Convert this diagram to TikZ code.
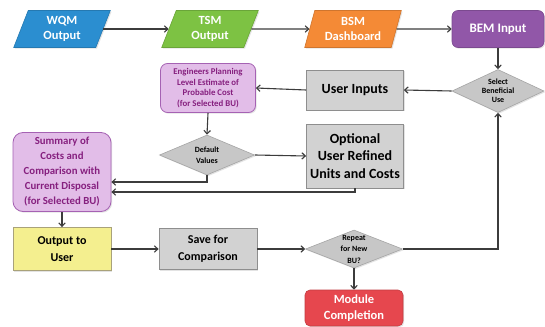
\documentclass[tikz,border=0pt]{standalone}
\usepackage{fontspec}
\setmainfont{Carlito}
\usetikzlibrary{shapes.geometric,arrows.meta,shadows}
\definecolor{wqmc}{HTML}{2B8ED0}
\definecolor{tsmc}{HTML}{7DC243}
\definecolor{bsmc}{HTML}{F48A36}
\definecolor{bemc}{HTML}{9157A8}
\definecolor{lpurp}{HTML}{E2BDE8}
\definecolor{lpurpd}{HTML}{A562B3}
\definecolor{magtext}{HTML}{86207F}
\definecolor{greyf}{HTML}{D2D2D2}
\definecolor{greyd}{HTML}{8E8E8E}
\definecolor{yelf}{HTML}{F4EF8F}
\definecolor{yeld}{HTML}{A9A27A}
\definecolor{redf}{HTML}{E6474E}
\definecolor{arrowc}{HTML}{3C3C3C}
\begin{document}
\begin{tikzpicture}[x=1pt,y=-1pt,
  shade/.style={drop shadow={shadow xshift=1.2pt,shadow yshift=-1.2pt,opacity=0.22}},
  para/.style={trapezium, trapezium left angle=72, trapezium right angle=108,
    trapezium stretches=true, minimum width=97pt, minimum height=37pt, inner sep=0pt,
    text=white, font=\bfseries\fontsize{12.5}{14.5}\selectfont, align=center,
    draw=#1!85!black, fill=#1, line width=0.6pt, shade},
  gbox/.style={rectangle, draw=greyd, fill=greyf, line width=0.8pt, inner sep=0pt,
    align=center, text=black, shade},
  pbox/.style={rectangle, rounded corners=#1, draw=lpurpd, fill=lpurp, line width=0.8pt,
    inner sep=0pt, align=center, text=magtext, shade},
  dia/.style={diamond, draw=greyd!80, fill=greyf!95!black, line width=0.6pt,
    inner sep=0pt, shade},
  dlab/.style={align=center, text=black, inner sep=0pt, font=\bfseries\fontsize{8}{#1}\selectfont},
  conn/.style={draw=arrowc, line width=1.1pt, -{Straight Barb[length=3.5pt,width=6.5pt]}}
]
\fill[white] (0,0) rectangle (545,326);
\useasboundingbox (0,0) rectangle (545,326);

% top row
\node[para=wqmc] (wqm) at (62,29) {WQM\\Output};
\node[para=tsmc] (tsm) at (210,29) {TSM\\Output};
\node[para=bsmc] (bsm) at (353,29) {BSM\\Dashboard};
\node[rectangle, rounded corners=6pt, draw=bemc!85!black, fill=bemc, line width=0.6pt,
  minimum width=92pt, minimum height=37pt, inner sep=0pt, text=white,
  font=\bfseries\fontsize{13}{15}\selectfont, shade] (bem) at (498,29) {BEM Input};

% second row
\node[pbox=7pt, minimum width=95pt, minimum height=49pt,
  font=\bfseries\fontsize{8.8}{10.8}\selectfont] (eng) at (208,88)
  {Engineers Planning\\Level Estimate of\\Probable Cost\\(for Selected BU)};
\node[gbox, minimum width=97pt, minimum height=40pt,
  font=\bfseries\fontsize{14}{16}\selectfont] (ui) at (355,90) {User Inputs};
\node[dia, minimum width=92pt, minimum height=43pt] (sel) at (498,91) {};
\node[dlab=8.8] (selt) at (sel) {Select\\Beneficial\\Use};

% third row
\node[dia, minimum width=95pt, minimum height=40pt] (def) at (207,155) {};
\node[dlab=11.5] (deft) at (def) {Default\\Values};
\node[gbox, minimum width=97pt, minimum height=64pt,
  font=\bfseries\fontsize{14}{17.5}\selectfont] (opt) at (355,156)
  {Optional\\User Refined\\Units and Costs};
\node[pbox=10pt, minimum width=98pt, minimum height=79pt,
  font=\bfseries\fontsize{10.8}{15}\selectfont] (sum) at (62,172)
  {Summary of\\Costs and\\Comparison with\\Current Disposal\\(for Selected BU)};

% fourth row
\node[rectangle, draw=yeld, fill=yelf, line width=0.8pt, inner sep=0pt,
  minimum width=98pt, minimum height=43pt, align=center,
  font=\bfseries\fontsize{12}{16.5}\selectfont, shade] (out) at (62,249) {Output to\\User};
\node[gbox, minimum width=98pt, minimum height=41pt,
  font=\bfseries\fontsize{12}{16.5}\selectfont] (save) at (208,249) {Save for\\Comparison};
\node[dia, minimum width=97pt, minimum height=38pt] (rep) at (354,249) {};
\node[dlab=11.5] (rept) at (rep) {Repeat\\for New\\BU?};
\node[rectangle, rounded corners=5pt, draw=redf!85!black, fill=redf, line width=0.6pt,
  minimum width=98pt, minimum height=36pt, inner sep=0pt, align=center, text=white,
  font=\bfseries\fontsize{12.5}{16.5}\selectfont, shade] (mod) at (354,308) {Module\\Completion};

% connectors
\draw[conn] (wqm.east) -- (tsm.west);
\draw[conn] (tsm.east) -- (bsm.west);
\draw[conn] (bsm.east) -- (bem.west);
\draw[conn] (bem.south) -- (sel.north);
\draw[conn] (sel.west) -- (ui.east);
\draw[conn] (ui.west) -- (eng.east);
\draw[conn] (eng.south) -- (def.north);
\draw[conn] (def.east) -- (opt.west);
\draw[conn] (def.south) |- ([yshift=-10pt]sum.east);
\draw[conn] (opt.south) |- ([yshift=-20pt]sum.east);
\draw[conn] (sum.south) -- (out.north);
\draw[conn] (out.east) -- (save.west);
\draw[conn] (save.east) -- (rep.west);
\draw[conn] (rep.south) -- (mod.north);
\draw[conn] (rep.east) -| (sel.south);
\end{tikzpicture}
\end{document}
